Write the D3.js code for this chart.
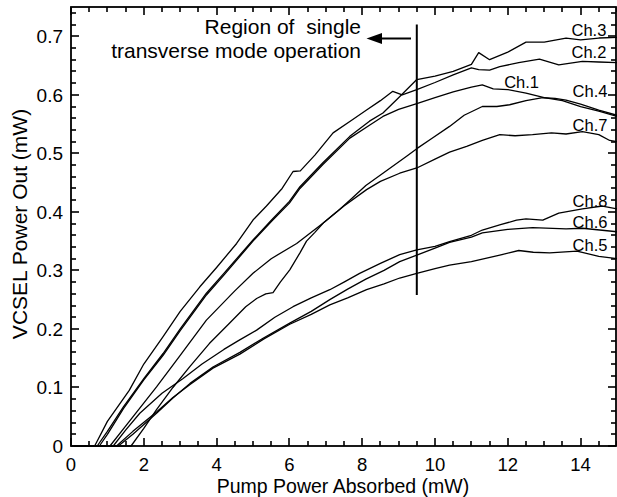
<html>
<head>
  <meta charset="UTF-8">
  <title>VCSEL power out vs pump power</title>
  <script src="https://d3js.org/d3.v7.min.js"></script>
</head>
<style>
body { margin: 0; background: #fff; }
text { font-family: "Liberation Sans", Arial, sans-serif; fill: #000; }
.curve { fill: none; stroke: #000; stroke-width: 1.3; stroke-linejoin: round; }
</style>
<body>
<script>

// pump power absorbed (mW) , VCSEL power out (mW)
var ch1 = [[0.1,0],[0.78,0],[1.0,0.02],[1.44,0.064],[2.0,0.113],[2.53,0.155],[3.0,0.197],[3.72,0.258],
  [4.2,0.292],[5.0,0.35],[5.51,0.384],[6.0,0.415],[6.29,0.44],[6.92,0.481],[7.66,0.526],[8.2,0.548],
  [8.57,0.563],[9.0,0.575],[9.5,0.585],[10.0,0.595],[10.5,0.605],[11.0,0.613],[11.3,0.617],[11.6,0.61],
  [12.0,0.609],[12.5,0.603],[13.0,0.595],[13.5,0.59],[14.0,0.58],[14.5,0.572],[15.0,0.563]];

var ch2 = [[0.1,0],[0.65,0],[1.0,0.042],[1.6,0.095],[2.0,0.14],[2.53,0.187],[3.0,0.23],[3.54,0.272],
  [4.0,0.305],[4.55,0.346],[5.0,0.386],[5.37,0.41],[5.8,0.44],[6.1,0.469],[6.3,0.47],[6.7,0.497],
  [7.2,0.535],[7.7,0.556],[8.12,0.574],[8.5,0.59],[8.84,0.606],[9.1,0.6],[9.5,0.609],[10.0,0.621],
  [10.5,0.634],[11.0,0.646],[11.2,0.643],[11.5,0.642],[11.78,0.648],[12.3,0.655],[12.87,0.661],
  [13.4,0.651],[14.05,0.657],[14.5,0.656],[15.0,0.655]];

var ch3 = [[0.1,0],[0.72,0],[1.0,0.025],[1.44,0.067],[2.0,0.115],[2.53,0.158],[3.0,0.2],[3.72,0.261],
  [4.2,0.295],[5.0,0.352],[5.51,0.386],[6.0,0.418],[6.29,0.443],[6.92,0.484],[7.66,0.529],[8.2,0.555],
  [8.57,0.569],[9.0,0.595],[9.5,0.626],[10.0,0.632],[10.5,0.64],[11.0,0.652],[11.2,0.672],[11.5,0.66],
  [12.0,0.673],[12.5,0.69],[13.0,0.69],[13.6,0.697],[14.0,0.694],[14.5,0.697],[15.0,0.698]];

var ch4 = [[0.1,0],[1.65,0],[2.0,0.03],[2.35,0.062],[2.8,0.1],[3.27,0.136],[3.8,0.175],[4.36,0.21],
  [4.8,0.238],[5.1,0.252],[5.35,0.26],[5.55,0.262],[5.75,0.28],[6.01,0.301],[6.29,0.33],[6.47,0.35],
  [6.7,0.365],[6.93,0.381],[7.3,0.4],[7.66,0.42],[8.1,0.445],[8.57,0.466],[9.22,0.495],[9.5,0.508],
  [9.9,0.525],[10.4,0.546],[10.8,0.565],[11.3,0.58],[11.7,0.58],[12.05,0.583],[12.5,0.59],[12.96,0.595],
  [13.3,0.594],[13.6,0.591],[14.0,0.584],[14.5,0.574],[15.0,0.565]];

var ch5 = [[0.1,0],[1.25,0],[1.7,0.025],[2.35,0.058],[2.8,0.083],[3.27,0.105],[3.9,0.133],[4.64,0.157],
  [5.3,0.183],[6.01,0.208],[6.6,0.225],[7.11,0.241],[7.6,0.253],[8.12,0.267],[8.6,0.277],[9.03,0.287],
  [9.5,0.295],[10.0,0.303],[10.4,0.309],[11.0,0.315],[11.78,0.326],[12.3,0.334],[12.7,0.331],
  [13.15,0.33],[13.9,0.333],[14.5,0.324],[15.0,0.32]];

var ch6 = [[0.1,0],[1.3,0],[1.7,0.02],[2.35,0.056],[2.8,0.082],[3.27,0.107],[3.9,0.135],[4.64,0.16],
  [5.3,0.185],[6.01,0.21],[6.6,0.23],[7.11,0.25],[7.6,0.268],[8.1,0.285],[8.6,0.3],[9.03,0.315],
  [9.5,0.326],[10.0,0.338],[10.4,0.348],[11.0,0.357],[11.3,0.364],[12.0,0.37],[12.68,0.373],
  [13.6,0.371],[14.05,0.372],[15.0,0.366]];

var ch7 = [[0.1,0],[1.07,0],[1.5,0.034],[2.35,0.101],[3.0,0.155],[3.72,0.215],[4.5,0.265],[5.0,0.295],
  [5.5,0.32],[6.2,0.346],[6.93,0.381],[7.5,0.41],[8.12,0.438],[8.5,0.452],[9.03,0.466],[9.5,0.475],
  [10.0,0.49],[10.4,0.502],[10.87,0.512],[11.3,0.522],[11.78,0.532],[12.2,0.53],[12.68,0.532],
  [13.2,0.535],[13.6,0.533],[14.05,0.537],[14.5,0.532],[14.8,0.522],[15.0,0.52]];

var ch8 = [[0.1,0],[1.16,0],[1.5,0.027],[1.89,0.056],[2.5,0.09],[3.07,0.115],[3.6,0.14],[4.2,0.165],
  [4.6,0.18],[5.1,0.198],[5.6,0.22],[6.1,0.238],[6.6,0.253],[7.11,0.267],[7.5,0.28],[7.93,0.295],
  [8.5,0.312],[9.03,0.327],[9.5,0.335],[10.0,0.341],[10.4,0.349],[11.0,0.36],[11.3,0.369],[11.8,0.378],
  [12.24,0.386],[12.5,0.388],[12.96,0.386],[13.4,0.398],[14.05,0.405],[14.6,0.41],[15.0,0.405]];

var channels = ['Ch.1','Ch.2','Ch.3','Ch.4','Ch.5','Ch.6','Ch.7','Ch.8'];
var series = [ch1, ch2, ch3, ch4, ch5, ch6, ch7, ch8];
// where each channel name sits (pump mW, power mW at baseline)
var labelAt = [[11.9,0.612],[13.75,0.663],[13.75,0.701],[13.78,0.596],[13.78,0.333],[13.78,0.372],[13.78,0.538],[13.78,0.408]];

var xTicks = [0, 2, 4, 6, 8, 10, 12, 14];
var yTicks = [0, 0.1, 0.2, 0.3, 0.4, 0.5, 0.6, 0.7];
var singleModeLimit = 9.5;   // mW pump, region boundary
var boundarySpan = [0.258, 0.72];

var width = 617, height = 497;
var plotL = 71, plotR = 616, plotT = 7, plotB = 446;

var svg = d3.select('body')
  .append('svg')
  .attr('width', width)
  .attr('height', height);

var x = d3.scaleLinear().domain([0, 15]).range([plotL, 617]);
var y = d3.scaleLinear().domain([0, 0.75]).range([plotB, plotT]);

// frame
svg.append('rect')
  .attr('x', plotL).attr('y', plotT)
  .attr('width', plotR - plotL).attr('height', plotB - plotT)
  .attr('fill', 'none').attr('stroke', '#000').attr('stroke-width', 1.8);

// curves
var line = d3.line()
  .x(function(d){ return x(d[0]); })
  .y(function(d){ return y(d[1]); });

svg.append('g').selectAll('path')
  .data(series)
  .enter()
  .append('path')
  .attr('class', 'curve')
  .attr('d', line);

// inward ticks on all four sides: minor every 0.5 mW / 0.02 mW, major longer
var xMinor = d3.range(0, 31).map(function(i){ return i * 0.5; });
var yMinor = d3.range(0, 38).map(function(i){ return i * 0.02; });
function xLen(v){ return Math.abs(v % 2) < 1e-6 ? 8 : 5; }
function yLen(v){ return Math.abs(Math.round(v * 10) - v * 10) < 1e-6 ? 8 : 5; }

var tickG = svg.append('g').attr('fill', '#000');
[plotB, plotT].forEach(function(edge){
  tickG.selectAll(null).data(xMinor).enter().append('rect')
    .attr('x', function(d){ return Math.round(x(d)) - 0.8; })
    .attr('width', 1.6)
    .attr('y', function(d){ return edge === plotB ? plotB - xLen(d) : plotT; })
    .attr('height', function(d){ return xLen(d); });
});
[plotL, plotR].forEach(function(edge){
  tickG.selectAll(null).data(yMinor).enter().append('rect')
    .attr('y', function(d){ return Math.round(y(d)) - 0.8; })
    .attr('height', 1.6)
    .attr('x', function(d){ return edge === plotL ? plotL : plotR - yLen(d); })
    .attr('width', function(d){ return yLen(d); });
});

// tick labels
svg.append('g').selectAll('text')
  .data(xTicks).enter().append('text')
  .attr('x', function(d){ return x(d); })
  .attr('y', 470.5)
  .attr('text-anchor', 'middle')
  .style('font-size', '18.5px')
  .text(function(d){ return d; });

svg.append('g').selectAll('text')
  .data(yTicks).enter().append('text')
  .attr('x', 63)
  .attr('y', function(d){ return y(d); })
  .attr('dy', '0.36em')
  .attr('text-anchor', 'end')
  .style('font-size', '19px')
  .text(function(d){ return d === 0 ? '0' : d3.format('.1f')(d); });

svg.append('g').selectAll('text')
  .data(channels)
  .enter()
  .append('text')
  .attr('x', function(d, i){ return x(labelAt[i][0]); })
  .attr('y', function(d, i){ return y(labelAt[i][1]); })
  .style('font-size', '16.5px')
  .text(function(d){ return d; });

// single mode boundary + annotation
svg.append('line')
  .attr('x1', x(singleModeLimit)).attr('x2', x(singleModeLimit))
  .attr('y1', y(boundarySpan[0])).attr('y2', y(boundarySpan[1]))
  .attr('stroke', '#000').attr('stroke-width', 2);

svg.append('line')
  .attr('x1', 411).attr('x2', 378)
  .attr('y1', 38.5).attr('y2', 38.5)
  .attr('stroke', '#000').attr('stroke-width', 2);
svg.append('path')
  .attr('d', 'M366.5,38.5L382,33L382,44Z')
  .attr('fill', '#000');

var note = svg.append('text')
  .attr('text-anchor', 'end')
  .style('font-size', '21px');
note.append('tspan').attr('x', 361).attr('y', 33.5).style('white-space', 'pre').text('Region of  single');
note.append('tspan').attr('x', 361).attr('y', 57.5).text('transverse mode operation');

// axis titles
svg.append('text')
  .attr('x', 343).attr('y', 493)
  .attr('text-anchor', 'middle')
  .style('font-size', '19.5px')
  .text('Pump Power Absorbed (mW)');

svg.append('text')
  .attr('transform', 'translate(27,224) rotate(-90)')
  .attr('text-anchor', 'middle')
  .style('font-size', '21px')
  .text('VCSEL Power Out (mW)');

</script>
</body>
</html>
